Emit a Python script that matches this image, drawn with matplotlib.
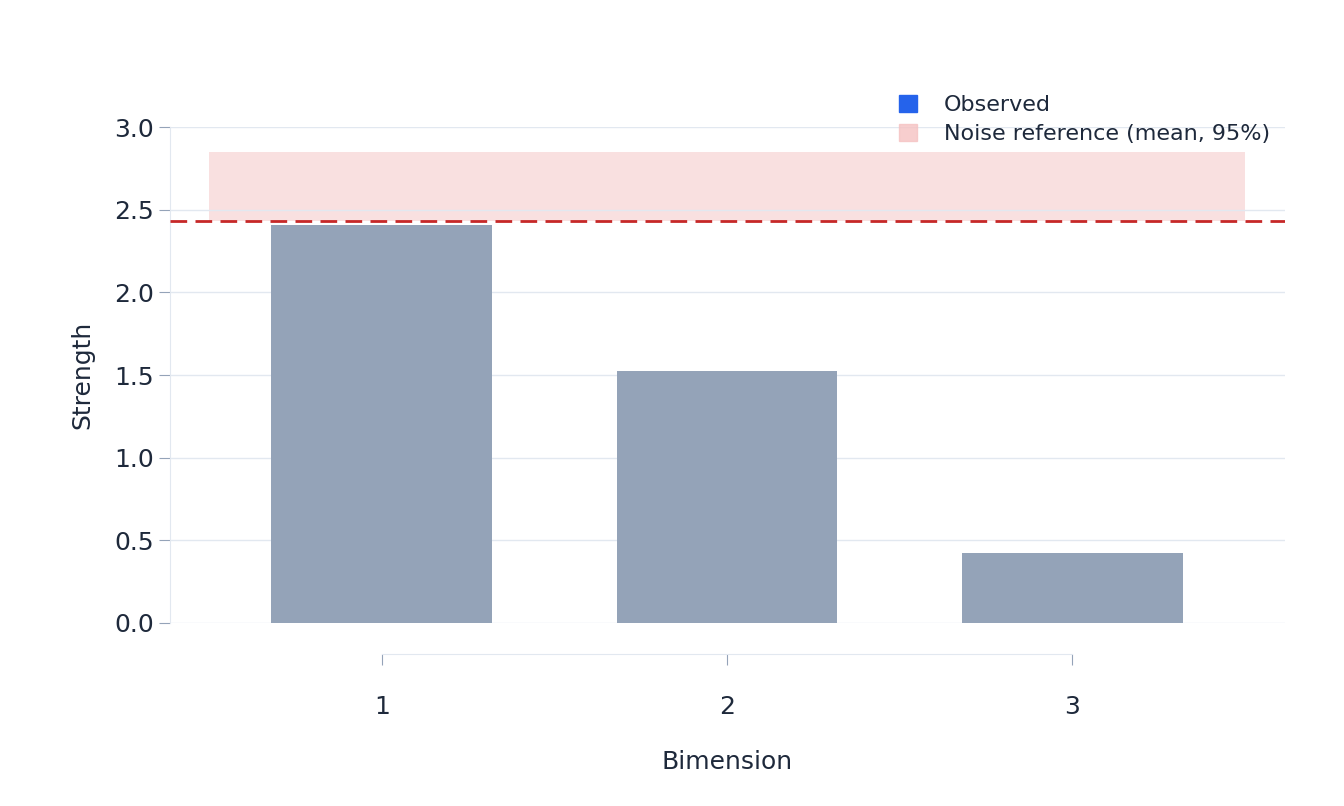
import matplotlib.pyplot as plt
from matplotlib.patches import Patch

dims = [1, 2, 3]
strength = [2.41, 1.527, 0.424]
noise_mean = 2.43
noise_lo = 2.43
noise_hi = 2.85

txt = '#1e293b'
fig = plt.figure(figsize=(13.44, 8.06), dpi=100)
ax = fig.add_axes([170/1344, 1-623/806, 1115/1344, 496/806])

ax.bar(dims, strength, width=0.64, color='#94a3b8', zorder=2)
ax.fill_between([0.5, 3.5], noise_lo, noise_hi, color='#f5c2c2', alpha=0.5, lw=0, zorder=1)
ax.axhline(noise_mean, color='#c62828', ls=(0, (6, 3)), lw=2, zorder=3)

ax.set_xlim(0.386, 3.617)
ax.set_ylim(0, 3.0)
ax.set_xticks(dims)
ax.set_yticks([0, 0.5, 1.0, 1.5, 2.0, 2.5, 3.0])
ax.set_yticklabels(['0.0', '0.5', '1.0', '1.5', '2.0', '2.5', '3.0'])
ax.grid(axis='y', color='#e2e8f0', lw=1, zorder=0)
for s in ['top', 'right']:
    ax.spines[s].set_visible(False)
ax.spines['left'].set_color('#e2e8f0')
ax.spines['bottom'].set_color('#e2e8f0')
ax.spines['bottom'].set_position(('outward', 22))
ax.spines['bottom'].set_bounds(1, 3)
ax.tick_params(colors='#94a3b8', labelcolor=txt, labelsize=18, length=8)
ax.tick_params(axis='x', pad=22)
ax.set_xlabel('Bimension', fontsize=18, color=txt, labelpad=22)
ax.set_ylabel('Strength', fontsize=18, color=txt, labelpad=14)

handles = [Patch(color='#2563eb', label='Observed'),
           Patch(color='#f5c2c2', alpha=0.8, label='Noise reference (mean, 95%)')]
leg = fig.legend(handles=handles, loc='upper right', bbox_to_anchor=(1290/1344, 1-75/806),
                 frameon=False, fontsize=16, handlelength=0.8, handleheight=0.8,
                 labelspacing=0.4, handletextpad=1.2)
for t in leg.get_texts():
    t.set_color(txt)

fig.savefig('out.png', dpi=100)
